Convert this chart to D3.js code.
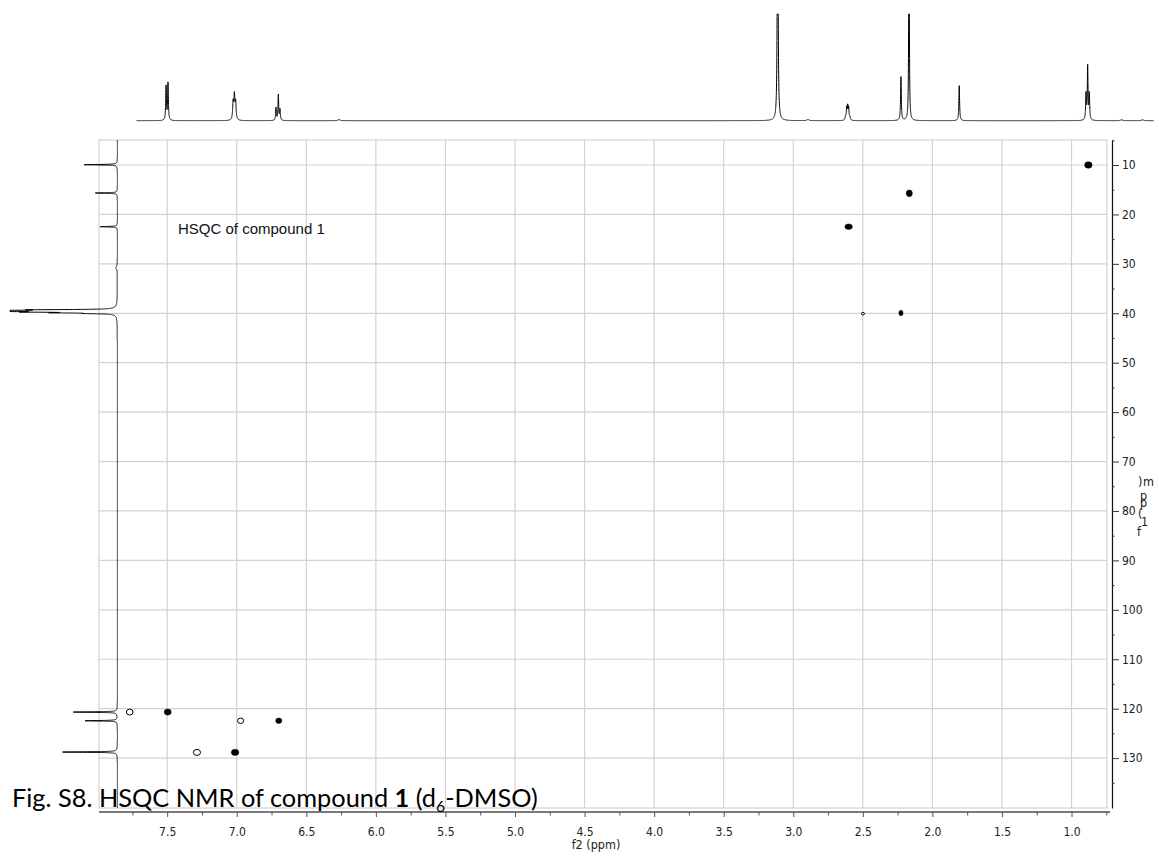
<!DOCTYPE html>
<html><head><meta charset="utf-8">
<script src="https://cdn.jsdelivr.net/npm/d3@7"></script>
<style>
html,body{margin:0;padding:0;background:#fff;}
svg{display:block;}
.tick text{font-family:"DejaVu Sans Condensed","DejaVu Sans",sans-serif;font-stretch:condensed;font-size:12px;fill:#222;}
</style></head><body>
<svg id="chart" width="1159" height="858"></svg>
<script>
// ---------- DATA ----------
// axis tick labels
const f2MajorTicks = [7.5, 7.0, 6.5, 6.0, 5.5, 5.0, 4.5, 4.0, 3.5, 3.0, 2.5, 2.0, 1.5, 1.0];
const f2MinorTicks = [7.75, 7.25, 6.75, 6.25, 5.75, 5.25, 4.75, 4.25, 3.75, 3.25, 2.75, 2.25, 1.75, 1.25, 0.75];
const f1MajorTicks = [10, 20, 30, 40, 50, 60, 70, 80, 90, 100, 110, 120, 130];
const f1MinorTicks = [5, 15, 25, 35, 45, 55, 65, 75, 85, 95, 105, 115, 125, 135];
const f2Domain = [7.99, 0.745];
const f1Domain = [4.94, 140.1];

// HSQC cross peaks (f2 = 1H ppm, f1 = 13C ppm), phase and half-widths (ppm)
const spotF2    = [0.879, 2.166, 2.602, 2.226, 2.499, 7.496, 7.769, 6.698, 6.972, 7.012, 7.286];
const spotF1    = [10.0, 15.73, 22.48, 39.95, 40.09, 120.69, 120.69, 122.45, 122.45, 128.85, 128.85];
const spotPhase = ["pos", "pos", "pos", "pos", "neg", "pos", "neg", "pos", "neg", "pos", "neg"];
const spotHalfWidthF2 = [0.027, 0.022, 0.027, 0.015, 0.011, 0.025, 0.024, 0.022, 0.022, 0.027, 0.026];
const spotHalfWidthF1 = [0.66, 0.68, 0.56, 0.56, 0.26, 0.62, 0.60, 0.56, 0.55, 0.62, 0.61];

// 1H projection (top trace): line positions (ppm), heights (0-100 = display), half-widths (ppm)
const hPeakPpm    = [7.508, 7.494, 7.026, 7.017, 7.008, 6.718, 6.701, 6.689, 6.265, 3.112, 2.894,
                     2.624, 2.616, 2.609, 2.602, 2.594, 2.226, 2.168, 1.807, 0.896, 0.884, 0.872, 0.64, 0.49];
const hPeakHeight = [32, 35, 16, 22, 16, 12, 24, 10, 1, 400, 1,
                     3, 11, 12, 11, 3, 41, 250, 33, 24, 50, 24, 0.8, 0.8];
const hPeakGamma  = [0.003, 0.003, 0.004, 0.004, 0.004, 0.003, 0.003, 0.003, 0.01, 0.0025, 0.01,
                     0.004, 0.003, 0.003, 0.003, 0.004, 0.003, 0.0022, 0.003, 0.003, 0.003, 0.003, 0.01, 0.01];
const hRange = [7.72, 0.41];

// 13C projection (left trace): positions (ppm), heights (0-100 = display), half-widths (ppm)
const cPeakPpm    = [9.94, 15.67, 22.48, 30.78, 39.3, 39.45, 39.6, 39.75, 39.9, 40.05, 120.69, 122.45, 128.78];
const cPeakHeight = [31, 20.5, 16, 1.4, 60, 130, 130, 60, 45, 20, 41, 30, 51];
const cPeakGamma  = [0.06, 0.06, 0.06, 0.3, 0.06, 0.06, 0.06, 0.06, 0.06, 0.06, 0.06, 0.06, 0.06];
const cRange = [4.94, 140.1];

const captionMain = "Fig. S8. HSQC NMR of compound ";
const captionBold = "1";
const captionTail = ["(d", "6", "-DMSO)"];
const innerTitle = "HSQC of compound 1";
const f2Label = "f2 (ppm)";
const f1Label = "f1 (ppm)";

// ---------- LAYOUT ----------
const svg = d3.select("#chart");
const L = 99, R = 1107, T = 140, B = 808;
const x = d3.scaleLinear().domain(f2Domain).range([L, R]);
const y = d3.scaleLinear().domain(f1Domain).range([T, B]);

// grid
const grid = svg.append("g");
grid.selectAll("line.v").data(f2MajorTicks).join("line")
  .attr("x1", d => x(d)).attr("x2", d => x(d)).attr("y1", T).attr("y2", B)
  .attr("stroke", "#d2d2d2").attr("stroke-width", 1.2);
grid.selectAll("line.h").data(f1MajorTicks).join("line")
  .attr("x1", L).attr("x2", R).attr("y1", d => y(d)).attr("y2", d => y(d))
  .attr("stroke", "#d2d2d2").attr("stroke-width", 1.2);
grid.append("rect").attr("x", L).attr("y", T).attr("width", R - L).attr("height", B - T)
  .attr("fill", "none").attr("stroke", "#d2d2d2").attr("stroke-width", 1.2);

// 1D traces
function lor(p, pos, hts, gms) {
  let s = 0;
  for (let i = 0; i < pos.length; i++) {
    const d = p - pos[i], g = gms[i];
    s += hts[i] * g * g / (d * d + g * g);
  }
  return s;
}
const hStep = 0.0004;
const hPts = d3.range(hRange[0], hRange[1], -hStep).map(p => [p, Math.min(100, lor(p, hPeakPpm, hPeakHeight, hPeakGamma))]);
const hInt = d3.scaleLinear().domain([0, 100]).range([120.7, 14]);
svg.append("path").datum(hPts)
  .attr("d", d3.line().x(d => x(d[0])).y(d => hInt(d[1])))
  .attr("fill", "none").attr("stroke", "#000").attr("stroke-width", 1);

const cStep = 0.005;
const cPts = d3.range(cRange[0], cRange[1], cStep).map(p => [p, Math.min(100, lor(p, cPeakPpm, cPeakHeight, cPeakGamma))]);
const cInt = d3.scaleLinear().domain([0, 100]).range([117.3, 10]);
svg.append("path").datum(cPts)
  .attr("d", d3.line().x(d => cInt(d[1])).y(d => y(d[0])))
  .attr("fill", "none").attr("stroke", "#000").attr("stroke-width", 1);

// cross peaks
const spots = spotF2.map((f2, i) => ({f2, f1: spotF1[i], ph: spotPhase[i], w2: spotHalfWidthF2[i], w1: spotHalfWidthF1[i]}));
svg.append("g").selectAll("ellipse").data(spots).join("ellipse")
  .attr("cx", d => x(d.f2)).attr("cy", d => y(d.f1))
  .attr("rx", d => Math.abs(x(d.f2 + d.w2) - x(d.f2)))
  .attr("ry", d => Math.abs(y(d.f1 + d.w1) - y(d.f1)))
  .attr("fill", d => d.ph === "pos" ? "#000" : "#fff")
  .attr("stroke", "#000").attr("stroke-width", d => d.ph === "pos" ? 0.5 : 1);

// inner title
svg.append("text").attr("x", 178).attr("y", 234)
  .attr("font-family", "'Liberation Sans', Arial, sans-serif").attr("font-size", 15).attr("fill", "#111")
  .text(innerTitle);

// bottom axis
const bAx = svg.append("g").attr("transform", `translate(0,812)`)
  .call(d3.axisBottom(x).tickValues(f2MajorTicks).tickFormat(d3.format(".1f")).tickSize(5).tickSizeOuter(0).tickPadding(10));
bAx.select(".domain").attr("stroke", "#7a7a7a").attr("stroke-width", 2)
  .attr("d", `M${L},0H1110`);
bAx.selectAll(".tick line").attr("stroke", "#555");
const bMin = svg.append("g").attr("transform", `translate(0,812)`)
  .call(d3.axisBottom(x).tickValues(f2MinorTicks).tickFormat("").tickSize(3.5).tickSizeOuter(0));
bMin.select(".domain").remove();
bMin.selectAll(".tick line").attr("stroke", "#555");

// right axis
const rAx = svg.append("g").attr("transform", `translate(1112,0)`)
  .call(d3.axisRight(y).tickValues(f1MajorTicks).tickSize(7).tickSizeOuter(0).tickPadding(3));
rAx.select(".domain").attr("stroke", "#111").attr("stroke-width", 1.2);
rAx.selectAll(".tick line").attr("stroke", "#333");
const rMin = svg.append("g").attr("transform", `translate(1112,0)`)
  .call(d3.axisRight(y).tickValues(f1MinorTicks).tickFormat("").tickSize(2.5).tickSizeOuter(0));
rMin.select(".domain").remove();
rMin.selectAll(".tick line").attr("stroke", "#333");

// axis titles
const axFont = "'DejaVu Sans Condensed','DejaVu Sans',sans-serif";
svg.append("text").attr("x", 596).attr("y", 849).attr("text-anchor", "middle")
  .attr("font-family", axFont).attr("font-stretch", "condensed").attr("font-size", 12.5).attr("fill", "#222")
  .text(f2Label);

// right label: one text element, glyphs stacked upright as in the reference (f at bottom ... ) at top)
const f1X = [1137, 1141, 1141, 1138, 1140, 1140, 1143, 1138];
const f1Y = [536, 526, 526, 518, 507, 500, 486, 486];
svg.append("text")
  .attr("x", f1X.join(" ")).attr("y", f1Y.join(" "))
  .attr("font-family", axFont).attr("font-stretch", "condensed")
  .attr("font-size", 12.5).attr("fill", "#222")
  .text(f1Label);

// caption
const cap = svg.append("text").attr("x", 12).attr("y", 807)
  .attr("font-family", "Lato, 'Open Sans', sans-serif").attr("font-size", 26).attr("fill", "#000");
cap.append("tspan").text(captionMain);
cap.append("tspan").attr("font-weight", "bold").text(captionBold);
cap.append("tspan").text(" " + captionTail[0]);
cap.append("tspan").attr("font-size", "0.62em").attr("dy", 5).text(captionTail[1]);
cap.append("tspan").attr("dy", -5).text(captionTail[2]);
const w = cap.node().getComputedTextLength();
cap.attr("font-size", 26 * 526 / w);
</script>
</body></html>
